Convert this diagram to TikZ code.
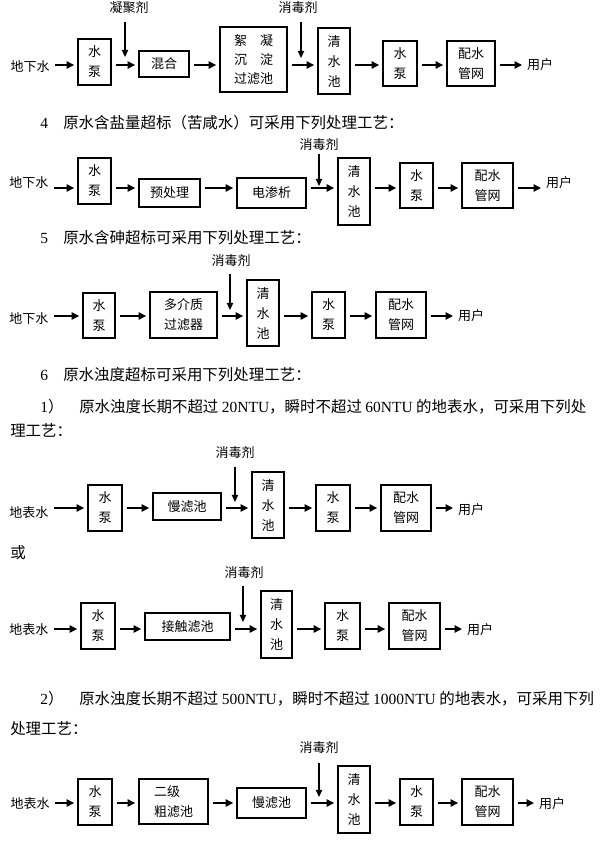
\documentclass[tikz,border=0pt]{standalone}
\usepackage{fontspec}
\setmainfont{Noto Sans CJK SC}
\newfontfamily\lat{Liberation Serif}
\usetikzlibrary{arrows.meta}
\newdimen\upx \upx=0.75pt
\newcommand\lblfont{\fontsize{9.75pt}{15pt}\selectfont}
\newcommand\hdfont{\fontsize{11.6pt}{14pt}\selectfont}
\tikzset{
  box/.style={draw, line width=0.8pt, inner sep=0pt, align=center, font=\lblfont},
  lbl/.style={inner sep=1pt, font=\lblfont},
  head/.style={anchor=west, inner sep=0pt, font=\hdfont},
  arr/.style={-{Triangle[length=5.6pt,width=5.4pt]}, line width=1.3pt, shorten <=3pt, shorten >=2.5pt},
  vin/.style={-{Triangle[length=5.4pt,width=4.8pt]}, line width=0.9pt},
}
\begin{document}
\begin{tikzpicture}[x=0.75pt,y=-0.75pt]
\fill[white] (0,0) rectangle (600,842);
\useasboundingbox (0,0) rectangle (600,842);

% ---------- diagram 1 ----------
\coordinate (L1) at (0,65);
\node[lbl] (c1a) at (129,8) {凝聚剂};
\node[lbl] (c1b) at (298,8) {消毒剂};
\coordinate (j1a) at (125,57);
\coordinate (j1b) at (301,58);
\node[lbl] (s1) at (30,67) {地下水};
\node[box,minimum width=33\upx,minimum height=46\upx] (p1) at (94.5,62) {水\\泵};
\node[box,minimum width=50\upx,minimum height=26\upx] (m1) at (164,64) {混合};
\node[box,minimum width=67\upx,minimum height=65\upx,font=\fontsize{9.75pt}{14pt}\selectfont] (f1) at (253.5,59.5) {絮\hspace{1em}凝\\沉\hspace{1em}淀\\过滤池};
\node[box,minimum width=32\upx,minimum height=66\upx] (q1) at (334,61) {清\\水\\池};
\node[box,minimum width=34\upx,minimum height=45\upx] (p1b) at (400,63.5) {水\\泵};
\node[box,minimum width=48\upx,minimum height=45\upx] (n1) at (471,63.5) {配水\\管网};
\node[lbl] (u1) at (540,65) {用户};
\draw[arr] (s1.east |- L1) -- (p1.west |- L1);
\draw[arr] (p1.east |- L1) -- (m1.west |- L1);
\draw[arr] (m1.east |- L1) -- (f1.west |- L1);
\draw[arr] (f1.east |- L1) -- (q1.west |- L1);
\draw[arr] (q1.east |- L1) -- (p1b.west |- L1);
\draw[arr] (p1b.east |- L1) -- (n1.west |- L1);
\draw[arr] (n1.east |- L1) -- (u1.west |- L1);
\draw[vin, shorten <=4.5pt] (c1a.south -| j1a) -- (j1a);
\draw[vin, shorten <=4.5pt] (c1b.south -| j1b) -- (j1b);

% ---------- diagram 2 ----------
\node[head] (h4) at (40,123) {\makebox[17.25pt][l]{\lat 4}原水含盐量超标（苦咸水）可采用下列处理工艺：};
\coordinate (L2) at (0,188);
\node[lbl] (c2) at (319,145) {消毒剂};
\coordinate (j2) at (319,186);
\node[lbl] (s2) at (29,183) {地下水};
\node[box,minimum width=33\upx,minimum height=46\upx] (p2) at (94.5,181) {水\\泵};
\node[box,minimum width=61\upx,minimum height=28\upx] (r2) at (169.5,193) {预处理};
\node[box,minimum width=69\upx,minimum height=30\upx] (e2) at (271.5,193) {电渗析};
\node[box,minimum width=32\upx,minimum height=67\upx] (q2) at (354,191.5) {清\\水\\池};
\node[box,minimum width=33\upx,minimum height=45\upx] (p2b) at (416.5,185.5) {水\\泵};
\node[box,minimum width=51\upx,minimum height=45\upx] (n2) at (487.5,185.5) {配水\\管网};
\node[lbl] (u2) at (559,183) {用户};
\draw[arr] (s2.east |- L2) -- (p2.west |- L2);
\draw[arr] (p2.east |- L2) -- (r2.west |- L2);
\draw[arr] (r2.east |- L2) -- (e2.west |- L2);
\draw[arr] (e2.east |- L2) -- (q2.west |- L2);
\draw[arr] (q2.east |- L2) -- (p2b.west |- L2);
\draw[arr] (p2b.east |- L2) -- (n2.west |- L2);
\draw[arr] (n2.east |- L2) -- (u2.west |- L2);
\draw[vin, shorten <=0.75pt] (c2.south -| j2) -- (j2);

% ---------- diagram 3 ----------
\node[head] (h5) at (40,238) {\makebox[17.25pt][l]{\lat 5}原水含砷超标可采用下列处理工艺：};
\coordinate (L3) at (0,316);
\node[lbl] (c3) at (231,261) {消毒剂};
\coordinate (j3) at (230,310);
\node[lbl] (s3) at (29,319) {地下水};
\node[box,minimum width=32\upx,minimum height=45\upx] (p3) at (99,315.5) {水\\泵};
\node[box,minimum width=67\upx,minimum height=46\upx] (d3) at (183.5,315) {多介质\\过滤器};
\node[box,minimum width=32\upx,minimum height=66\upx] (q3) at (263,313) {清\\水\\池};
\node[box,minimum width=33\upx,minimum height=46\upx] (p3b) at (328.5,315) {水\\泵};
\node[box,minimum width=50\upx,minimum height=46\upx] (n3) at (401,315) {配水\\管网};
\node[lbl] (u3) at (471,316) {用户};
\draw[arr] (s3.east |- L3) -- (p3.west |- L3);
\draw[arr] (p3.east |- L3) -- (d3.west |- L3);
\draw[arr] (d3.east |- L3) -- (q3.west |- L3);
\draw[arr] (q3.east |- L3) -- (p3b.west |- L3);
\draw[arr] (p3b.east |- L3) -- (n3.west |- L3);
\draw[arr] (n3.east |- L3) -- (u3.west |- L3);
\draw[vin, shorten <=3.75pt] (c3.south -| j3) -- (j3);

% ---------- diagram 4 ----------
\node[head] (h6) at (40,375) {\makebox[17.25pt][l]{\lat 6}原水浊度超标可采用下列处理工艺：};
\node[head] (h61) at (40,407) {\makebox[29.25pt][l]{{\lat 1}）}原水浊度长期不超过 {\lat 20NTU}，瞬时不超过 {\lat 60NTU} 的地表水，可采用下列处};
\node[head] (h61b) at (10,430) {理工艺：};
\coordinate (L4) at (0,508);
\node[lbl] (c4) at (235,453) {消毒剂};
\coordinate (j4) at (235,502);
\node[lbl] (s4) at (29,513) {地表水};
\node[box,minimum width=34\upx,minimum height=46\upx] (p4) at (105,508) {水\\泵};
\node[box,minimum width=68\upx,minimum height=27\upx] (l4) at (187,506.5) {慢滤池};
\node[box,minimum width=32\upx,minimum height=66\upx] (q4) at (268,505) {清\\水\\池};
\node[box,minimum width=34\upx,minimum height=46\upx] (p4b) at (333,508) {水\\泵};
\node[box,minimum width=50\upx,minimum height=46\upx] (n4) at (406,508) {配水\\管网};
\node[lbl] (u4) at (471,510) {用户};
\draw[arr] (s4.east |- L4) -- (p4.west |- L4);
\draw[arr] (p4.east |- L4) -- (l4.west |- L4);
\draw[arr] (l4.east |- L4) -- (q4.west |- L4);
\draw[arr] (q4.east |- L4) -- (p4b.west |- L4);
\draw[arr] (p4b.east |- L4) -- (n4.west |- L4);
\draw[arr] (n4.east |- L4) -- (u4.west |- L4);
\draw[vin, shorten <=4.5pt] (c4.south -| j4) -- (j4);

% ---------- diagram 5 ----------
\node[head] (or5) at (10,553) {或};
\coordinate (L5) at (0,629);
\node[lbl] (c5) at (244,573) {消毒剂};
\coordinate (j5) at (243,622);
\node[lbl] (s5) at (29,630) {地表水};
\node[box,minimum width=34\upx,minimum height=46\upx] (p5) at (98,626) {水\\泵};
\node[box,minimum width=85\upx,minimum height=27\upx] (t5) at (187.5,626.5) {接触滤池};
\node[box,minimum width=31\upx,minimum height=67\upx] (q5) at (276.5,624.5) {清\\水\\池};
\node[box,minimum width=35\upx,minimum height=46\upx] (p5b) at (342.5,626) {水\\泵};
\node[box,minimum width=51\upx,minimum height=46\upx] (n5) at (414.5,626) {配水\\管网};
\node[lbl] (u5) at (480,630) {用户};
\draw[arr] (s5.east |- L5) -- (p5.west |- L5);
\draw[arr] (p5.east |- L5) -- (t5.west |- L5);
\draw[arr] (t5.east |- L5) -- (q5.west |- L5);
\draw[arr] (q5.east |- L5) -- (p5b.west |- L5);
\draw[arr] (p5b.east |- L5) -- (n5.west |- L5);
\draw[arr] (n5.east |- L5) -- (u5.west |- L5);
\draw[vin, shorten <=3.75pt] (c5.south -| j5) -- (j5);

% ---------- diagram 6 ----------
\node[head] (h62) at (40,699) {\makebox[29.25pt][l]{{\lat 2}）}原水浊度长期不超过 {\lat 500NTU}，瞬时不超过 {\lat 1000NTU} 的地表水，可采用下列};
\node[head] (h62b) at (10,729) {处理工艺：};
\coordinate (L6) at (0,803);
\node[lbl] (c6) at (319,748) {消毒剂};
\coordinate (j6) at (319,797);
\node[lbl] (s6) at (30,804) {地表水};
\node[box,minimum width=34\upx,minimum height=46\upx] (p6) at (95,802) {水\\泵};
\node[box,minimum width=69\upx,minimum height=45\upx,align=left] (g6) at (173.5,801.5) {二级\\粗滤池};
\node[box,minimum width=69\upx,minimum height=30\upx] (l6) at (271.5,803) {慢滤池};
\node[box,minimum width=32\upx,minimum height=67\upx] (q6) at (354,799.5) {清\\水\\池};
\node[box,minimum width=33\upx,minimum height=46\upx] (p6b) at (416.5,802) {水\\泵};
\node[box,minimum width=51\upx,minimum height=46\upx] (n6) at (487.5,802) {配水\\管网};
\node[lbl] (u6) at (552,804) {用户};
\draw[arr] (s6.east |- L6) -- (p6.west |- L6);
\draw[arr] (p6.east |- L6) -- (g6.west |- L6);
\draw[arr] (g6.east |- L6) -- (l6.west |- L6);
\draw[arr] (l6.east |- L6) -- (q6.west |- L6);
\draw[arr] (q6.east |- L6) -- (p6b.west |- L6);
\draw[arr] (p6b.east |- L6) -- (n6.west |- L6);
\draw[arr] (n6.east |- L6) -- (u6.west |- L6);
\draw[vin, shorten <=5.25pt] (c6.south -| j6) -- (j6);
\end{tikzpicture}
\end{document}
